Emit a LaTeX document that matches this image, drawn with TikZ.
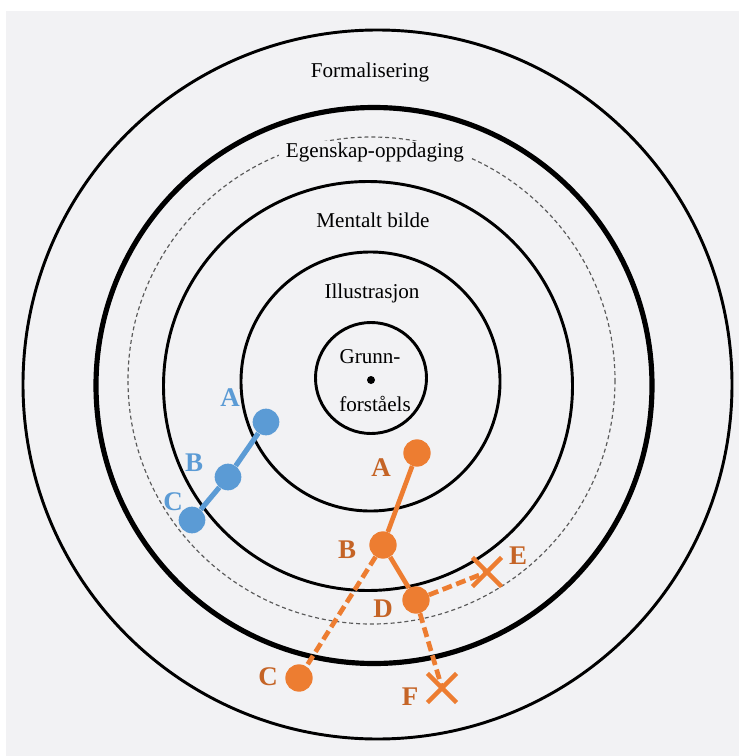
\documentclass[tikz,border=0pt]{standalone}
\usepackage{fontspec}
\setmainfont{Liberation Serif}
\usetikzlibrary{shapes.misc}
\definecolor{bgGray}{RGB}{242,242,244}
\definecolor{blueDot}{RGB}{91,155,213}
\definecolor{orangeDot}{RGB}{237,125,49}
\definecolor{orangeText}{RGB}{197,100,38}
\definecolor{dashGray}{RGB}{90,90,90}

\begin{document}
\begin{tikzpicture}[x=0.03cm, y=-0.03cm,
    ringStyle/.style={line width=2.5pt},
    textStyle/.style={font=\fontsize{18}{20}\selectfont, inner sep=1pt, anchor=base},
    blueDotStyle/.style={circle, fill=blueDot, minimum size=0.8cm, inner sep=0pt},
    orangeDotStyle/.style={circle, fill=orangeDot, minimum size=0.82cm, inner sep=0pt},
    crossStyle/.style={cross out, draw=orangeDot, line width=3.8pt, minimum size=0.74cm, inner sep=0pt},
    blueLabel/.style={text=blueDot, font=\fontsize{23}{26}\selectfont\bfseries, inner sep=0pt},
    orangeLabel/.style={text=orangeText, font=\fontsize{23}{26}\selectfont\bfseries, inner sep=0pt},
    blueLink/.style={draw=blueDot, line width=4.4pt},
    solidLink/.style={draw=orangeDot, line width=4pt},
    dashLink/.style={draw=orangeDot, line width=4pt, dash pattern=on 8.5pt off 4pt}]

    \useasboundingbox (0,0) rectangle (739,756);
    \fill[bgGray] (6,11) rectangle (739,756);

    % rings
    \draw[ringStyle] (377.5,384.5) circle (354.5);
    \draw[line width=4.4pt] (374,385.5) circle (278);
    \draw[dashGray, line width=1pt, dash pattern=on 3.4pt off 2.5pt] (371.5,380.5) circle (243.5);
    \draw[ringStyle] (368,386) circle (204.5);
    \draw[ringStyle] (370.5,381.5) circle (129.5);
    \draw[ringStyle] (371,378) circle (55.5);
    \fill (371,380) circle (4);
    \node (ctr) at (371,380) {};

    % ring names
    \node[textStyle] (formal) at (370,77) {Formalisering};
    \node[textStyle, fill=bgGray, inner xsep=6pt] (egensk) at (375,157) {Egenskap-oppdaging};
    \node[textStyle] (mental) at (373,227) {Mentalt bilde};
    \node[textStyle] (illus) at (372,298) {Illustrasjon};
    \node[textStyle] (grunn) at (370,363) {Grunn-};
    \node[textStyle] (forst) at (375,411) {forståels};

    % blue path
    \node[blueDotStyle] (blueA) at (266,422) {};
    \node[blueDotStyle] (blueB) at (228,477) {};
    \node[blueDotStyle] (blueC) at (192,520) {};
    \draw[blueLink] (blueA) -- (blueB);
    \draw[blueLink] (blueB) -- (blueC);
    \node[blueLabel] at (230,398) {A};
    \node[blueLabel] at (194,463) {B};
    \node[blueLabel] at (173,502) {C};

    % orange path
    \node[orangeDotStyle] (orA) at (417,453) {};
    \node[orangeDotStyle] (orB) at (383,545) {};
    \node[orangeDotStyle] (orC) at (299,678) {};
    \node[orangeDotStyle] (orD) at (416,600) {};
    \node[crossStyle] (orE) at (487,572) {};
    \node[crossStyle] (orF) at (442,688) {};
    \draw[solidLink] (orA) -- (orB);
    \draw[solidLink] (orB) -- (orD);
    \draw[dashLink] (orB) -- (orC);
    \draw[dashLink] (orD) -- (orE.center);
    \draw[dashLink] (orD) -- (orF.center);
    \node[orangeLabel] at (381,468) {A};
    \node[orangeLabel] at (347,550) {B};
    \node[orangeLabel] at (268,677) {C};
    \node[orangeLabel] at (383,609) {D};
    \node[orangeLabel] at (518,556) {E};
    \node[orangeLabel] at (410,697) {F};
\end{tikzpicture}
\end{document}
